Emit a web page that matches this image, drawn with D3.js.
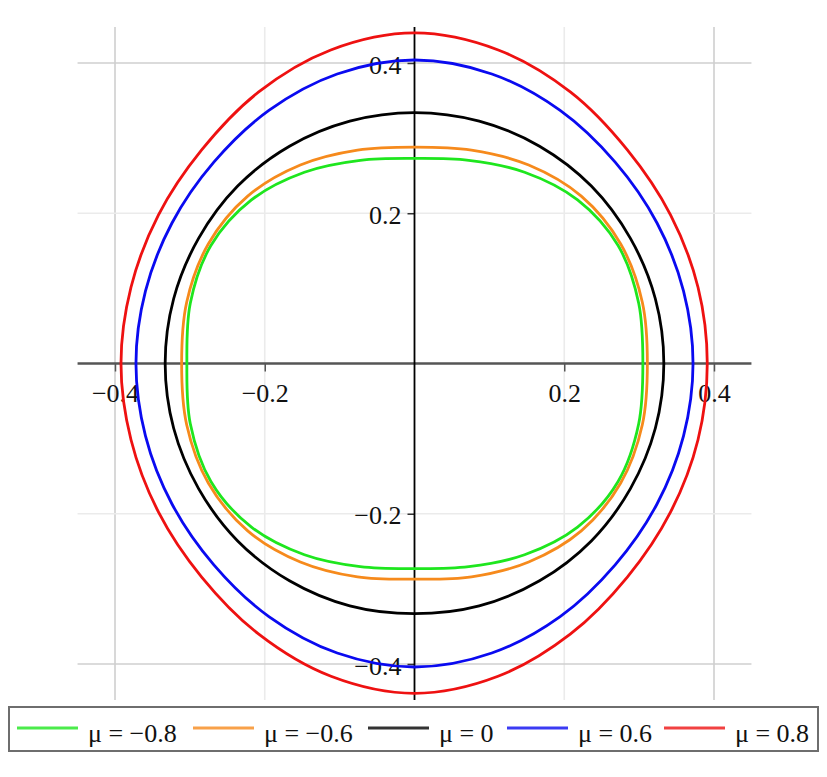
<!DOCTYPE html>
<html><head><meta charset="utf-8">
<script src="https://cdn.jsdelivr.net/npm/d3@7"></script>
<style>body{margin:0;background:#fff;}svg{display:block;}</style>
</head><body>
<svg id="chart" width="827" height="777"></svg>
<script>
// ---- data ----
const angles = [0,15,30,45,60,75,90,105,120,135,150,165,180,195,210,225,240,255,270,285,300,315,330,345];
const seriesNames = ["μ = −0.8","μ = −0.6","μ = 0","μ = 0.6","μ = 0.8"];
const rGreen  = [0.305,0.310,0.314,0.308,0.294,0.280,0.273,0.280,0.294,0.308,0.314,0.310,0.304,0.310,0.314,0.308,0.294,0.280,0.273,0.280,0.294,0.308,0.314,0.310];
const rOrange = [0.311,0.315,0.318,0.315,0.305,0.294,0.288,0.294,0.305,0.315,0.318,0.315,0.311,0.315,0.318,0.315,0.305,0.294,0.287,0.294,0.305,0.315,0.318,0.315];
const rBlack  = [0.333,0.333,0.333,0.334,0.334,0.334,0.334,0.334,0.334,0.334,0.333,0.333,0.333,0.333,0.333,0.334,0.334,0.334,0.333,0.334,0.334,0.334,0.333,0.333];
const rBlue   = [0.372,0.372,0.374,0.379,0.389,0.399,0.404,0.399,0.389,0.379,0.374,0.372,0.372,0.372,0.374,0.379,0.389,0.399,0.404,0.399,0.389,0.379,0.374,0.372];
const rRed    = [0.391,0.392,0.395,0.402,0.417,0.432,0.440,0.432,0.417,0.402,0.395,0.392,0.392,0.392,0.395,0.402,0.416,0.431,0.439,0.431,0.416,0.402,0.395,0.392];
const xTicks = [-0.4,-0.2,0.2,0.4];
const yTicks = [-0.4,-0.2,0.2,0.4];
const xExtent = [-0.45,0.45];
const yExtent = [-0.448,0.448];

// ---- styles / layout ----
const colors = ["#1ee61e","#f68a1c","#000000","#0a0af0","#ee1111"];
const radii = [rGreen,rOrange,rBlack,rBlue,rRed];
const FONT = "'Liberation Serif','Times New Roman',serif";

const svg = d3.select("#chart");
const x = d3.scaleLinear().domain([-0.4,0.4]).range([115,714]);
const y = d3.scaleLinear().domain([-0.4,0.4]).range([664,63]);

// grid
const g = svg.append("g");
g.selectAll("line.vg").data(xTicks).join("line")
  .attr("x1",d=>x(d)).attr("x2",d=>x(d)).attr("y1",y(yExtent[1])).attr("y2",y(yExtent[0]))
  .attr("stroke",d=>Math.abs(d)>0.3?"#cfcfcf":"#ebebeb").attr("stroke-width",1.6);
g.selectAll("line.hg").data(yTicks).join("line")
  .attr("y1",d=>y(d)).attr("y2",d=>y(d)).attr("x1",x(xExtent[0])).attr("x2",x(xExtent[1]))
  .attr("stroke",d=>Math.abs(d)>0.3?"#cfcfcf":"#ebebeb").attr("stroke-width",1.6);

// axes
const fmt = d3.format(".1f");
const xAxis = svg.append("g").attr("transform",`translate(0,${y(0)})`)
  .call(d3.axisBottom(x).tickValues(xTicks).tickFormat(fmt).tickSize(8).tickPadding(12));
xAxis.select(".domain").remove();
xAxis.selectAll(".tick line").attr("stroke","#555").attr("stroke-width",1.5);
xAxis.selectAll("text").attr("font-family",FONT).attr("font-size",26).attr("fill","#111");

const yAxis = svg.append("g").attr("transform",`translate(${x(0)},0)`)
  .call(d3.axisLeft(y).tickValues(yTicks).tickFormat(fmt).tickSize(7).tickPadding(6));
yAxis.select(".domain").remove();
yAxis.selectAll(".tick line").attr("stroke","#333").attr("stroke-width",1.5);
yAxis.selectAll("text").attr("font-family",FONT).attr("font-size",26).attr("fill","#111").attr("dy","0.39em");

svg.append("line").attr("x1",x(xExtent[0])).attr("x2",x(xExtent[1])).attr("y1",y(0)).attr("y2",y(0))
  .attr("stroke","#555").attr("stroke-width",2.6);
svg.append("line").attr("x1",x(0)).attr("x2",x(0)).attr("y1",y(yExtent[1])).attr("y2",y(yExtent[0]))
  .attr("stroke","#000").attr("stroke-width",1.8);

// curves
const line = d3.line().x(d=>x(d[0])).y(d=>y(d[1])).curve(d3.curveCatmullRomClosed);
radii.forEach((r,k)=>{
  const pts = angles.map((a,i)=>[r[i]*Math.cos(a*Math.PI/180), r[i]*Math.sin(a*Math.PI/180)]);
  svg.append("path").attr("d",line(pts)).attr("fill","none")
    .attr("stroke",colors[k]).attr("stroke-width",2.8);
});

// legend
const legendX = [17,193,368,507,664];
const lg = svg.append("g");
lg.append("rect").attr("x",9).attr("y",707).attr("width",809).attr("height",44)
  .attr("fill","#fff").attr("stroke","#6e6e6e").attr("stroke-width",2);
seriesNames.forEach((n,k)=>{
  lg.append("line").attr("x1",legendX[k]).attr("x2",legendX[k]+61).attr("y1",728).attr("y2",728)
    .attr("stroke",colors[k]).attr("stroke-width",3).attr("stroke-opacity",0.8);
  lg.append("text").attr("x",legendX[k]+71).attr("y",742).text(n)
    .attr("font-family",FONT).attr("font-size",26).attr("fill","#111");
});
</script>
</body></html>
